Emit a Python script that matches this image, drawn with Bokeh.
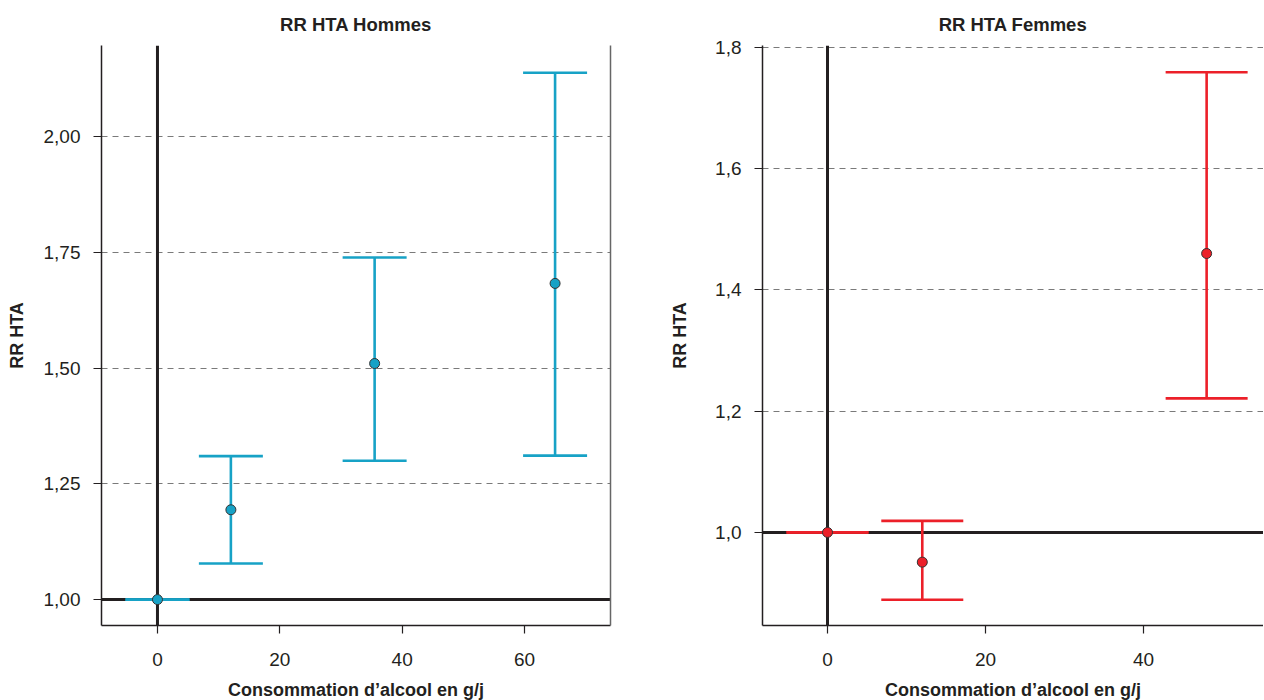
from bokeh.plotting import figure
from bokeh.models import (ColumnDataSource, Range1d, Whisker, TeeHead, Span,
                          LinearAxis, FixedTicker)
from bokeh.layouts import row
from bokeh.embed import file_html
from bokeh.resources import INLINE

# ---- data ----
men_x = [0, 12, 35.5, 65]
men_rr = [1.00, 1.194, 1.51, 1.683]
men_low = [1.00, 1.078, 1.30, 1.311]
men_high = [1.00, 1.31, 1.739, 2.138]
men_yticks = [1.0, 1.25, 1.5, 1.75, 2.0]
men_ylabels = ["1,00", "1,25", "1,50", "1,75", "2,00"]

women_x = [0, 12, 48]
women_rr = [1.00, 0.951, 1.46]
women_low = [1.00, 0.889, 1.221]
women_high = [1.00, 1.019, 1.759]
women_yticks = [1.0, 1.2, 1.4, 1.6, 1.8]
women_ylabels = ["1,0", "1,2", "1,4", "1,6", "1,8"]

men_xticks = [0, 20, 40, 60]
women_xticks = [0, 20, 40]

FONT = "Liberation Sans"
DARK = "#231f20"
TEAL = "#17a2c6"
RED = "#ec2029"


def make_panel(title, xs, rr, lo, hi, color, xr, yr, xticks, yticks, ylabels,
               frame_w, border_left, border_right, cap, right_border, ylab_standoff):
    src = ColumnDataSource(dict(x=xs, rr=rr, lower=lo, upper=hi))
    p = figure(frame_width=frame_w, frame_height=580,
               x_range=Range1d(*xr), y_range=Range1d(*yr),
               output_backend="svg", toolbar_location=None,
               min_border_left=border_left, min_border_right=border_right,
               min_border_top=45, min_border_bottom=74,
               background_fill_color="white", border_fill_color="white")
    p.outline_line_color = None
    p.title.text = title
    p.title.align = "center"
    p.title.text_font = FONT
    p.title.text_font_size = "18.5px"
    p.title.text_font_style = "bold"
    p.title.text_color = DARK
    p.title.standoff = 22

    p.xgrid.grid_line_color = None
    p.ygrid.ticker = FixedTicker(ticks=yticks)
    p.ygrid.grid_line_color = "#7a7a7a"
    p.ygrid.grid_line_dash = "6 5"
    p.ygrid.grid_line_width = 1.2

    p.xaxis.ticker = FixedTicker(ticks=xticks)
    p.yaxis.ticker = FixedTicker(ticks=yticks)
    p.yaxis.major_label_overrides = {t: l for t, l in zip(yticks, ylabels)}
    for ax in (p.xaxis[0], p.yaxis[0]):
        ax.axis_line_color = DARK
        ax.axis_line_width = 1.5
        ax.major_tick_line_color = DARK
        ax.major_tick_line_width = 1.2
        ax.major_tick_out = 8
        ax.major_tick_in = 0
        ax.minor_tick_line_color = None
        ax.major_label_text_font = FONT
        ax.major_label_text_font_size = "19px"
        ax.major_label_text_color = DARK
        ax.axis_label_text_font = FONT
        ax.axis_label_text_font_size = "18px"
        ax.axis_label_text_font_style = "bold"
        ax.axis_label_text_color = DARK
    p.xaxis.axis_label = "Consommation d\u2019alcool en g/j"
    p.yaxis.axis_label = "RR HTA"
    p.xaxis.major_label_standoff = 19
    p.xaxis.axis_label_standoff = 11
    p.yaxis.major_label_standoff = 13
    p.yaxis.axis_label_standoff = ylab_standoff

    if right_border:
        ra = LinearAxis(ticker=FixedTicker(ticks=[]),
                        major_tick_line_color=None, minor_tick_line_color=None,
                        axis_line_color="#666666", axis_line_width=1.5,
                        major_tick_out=0, major_tick_in=0)
        p.add_layout(ra, "right")

    p.add_layout(Span(location=0, dimension="height", line_color=DARK,
                      line_width=3, level="underlay"))
    p.add_layout(Span(location=1.0, dimension="width", line_color=DARK,
                      line_width=3, level="underlay"))

    w = Whisker(source=src, base="x", upper="upper", lower="lower",
                line_color=color, line_width=2.6,
                upper_head=TeeHead(size=cap, line_color=color, line_width=2.6),
                lower_head=TeeHead(size=cap, line_color=color, line_width=2.6))
    p.add_layout(w)
    p.scatter("x", "rr", source=src, size=10, fill_color=color,
              line_color="#333333", line_width=1, level="overlay")
    return p


p1 = make_panel("RR HTA Hommes", men_x, men_rr, men_low, men_high, TEAL,
                (-9.15, 74.06), (0.944, 2.197), men_xticks, men_yticks, men_ylabels,
                509, 101, 28, 64, True, 14)
p2 = make_panel("RR HTA Femmes", women_x, women_rr, women_low, women_high, RED,
                (-8.23, 55.2), (0.8465, 1.803), women_xticks, women_yticks, women_ylabels,
                501, 124, 0, 82, False, 22)

layout = row(p1, p2)
open("out.html", "w").write(file_html(layout, INLINE))
